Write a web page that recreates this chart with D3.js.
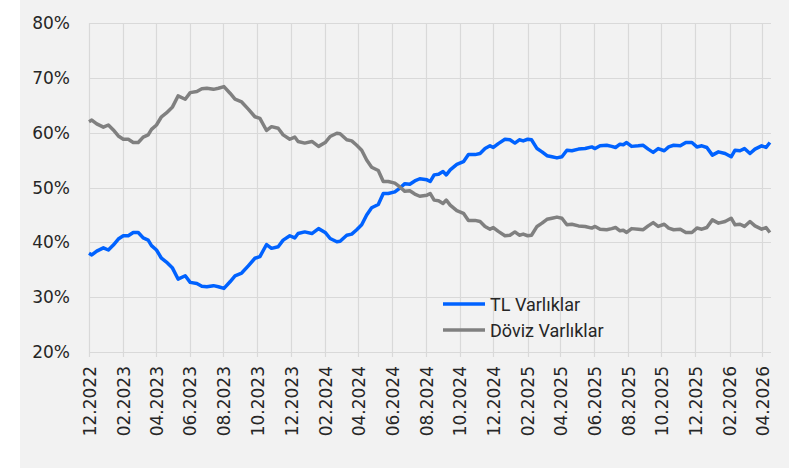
<!DOCTYPE html>
<html>
<head>
<meta charset="utf-8">
<script src="https://cdn.jsdelivr.net/npm/d3@7"></script>
<style>
  html, body { margin: 0; padding: 0; background: #ffffff; }
  svg { display: block; }
</style>
</head>
<body>
<div id="chart"></div>
<script>
var dates = [
  '2022-12-01', '2022-12-06', '2022-12-15', '2022-12-27', '2023-01-05', '2023-01-14', '2023-01-23', '2023-02-01', '2023-02-10', '2023-02-19',
  '2023-02-28', '2023-03-09', '2023-03-18', '2023-03-24', '2023-04-02', '2023-04-11', '2023-04-20', '2023-05-01', '2023-05-11', '2023-05-24',
  '2023-06-02', '2023-06-14', '2023-06-23', '2023-07-02', '2023-07-14', '2023-07-23', '2023-08-02', '2023-08-13', '2023-08-22', '2023-09-03',
  '2023-09-15', '2023-09-27', '2023-10-06', '2023-10-18', '2023-10-27', '2023-11-08', '2023-11-17', '2023-11-29', '2023-12-08', '2023-12-14',
  '2023-12-26', '2024-01-08', '2024-01-20', '2024-02-01', '2024-02-10', '2024-02-22', '2024-02-28', '2024-03-11', '2024-03-20', '2024-03-29',
  '2024-04-07', '2024-04-16', '2024-04-25', '2024-05-07', '2024-05-16', '2024-05-25', '2024-06-06', '2024-06-15', '2024-06-24', '2024-07-03',
  '2024-07-12', '2024-07-21', '2024-08-03', '2024-08-09', '2024-08-16', '2024-08-24', '2024-09-01', '2024-09-07', '2024-09-14', '2024-09-26',
  '2024-10-08', '2024-10-17', '2024-10-29', '2024-11-07', '2024-11-16', '2024-11-25', '2024-12-01', '2024-12-10', '2024-12-22', '2024-12-31',
  '2025-01-09', '2025-01-17', '2025-01-24', '2025-02-01', '2025-02-08', '2025-02-18', '2025-02-27', '2025-03-08', '2025-03-17', '2025-03-26',
  '2025-04-04', '2025-04-13', '2025-04-22', '2025-05-04', '2025-05-16', '2025-05-28', '2025-06-03', '2025-06-12', '2025-06-24', '2025-07-03',
  '2025-07-10', '2025-07-18', '2025-07-24', '2025-07-30', '2025-08-08', '2025-08-20', '2025-08-29', '2025-09-07', '2025-09-16', '2025-09-25',
  '2025-10-06', '2025-10-14', '2025-10-23', '2025-11-04', '2025-11-14', '2025-11-25', '2025-12-04', '2025-12-13', '2025-12-22', '2026-01-01',
  '2026-01-12', '2026-01-24', '2026-02-04', '2026-02-11', '2026-02-20', '2026-02-28', '2026-03-10', '2026-03-19', '2026-03-31', '2026-04-08',
  '2026-04-15'
]

// TL Varlıklar (%)
var tlValues = [
  38.0, 37.7, 38.4, 39.0, 38.6, 39.5, 40.6, 41.2, 41.2, 41.8,
  41.8, 40.8, 40.4, 39.4, 38.6, 37.1, 36.4, 35.3, 33.3, 33.9,
  32.7, 32.5, 32.0, 31.9, 32.1, 31.9, 31.6, 32.8, 33.9, 34.4,
  35.7, 37.1, 37.4, 39.6, 38.9, 39.2, 40.4, 41.2, 40.8, 41.6,
  41.9, 41.6, 42.5, 41.8, 40.7, 40.1, 40.2, 41.3, 41.5, 42.3,
  43.2, 45.0, 46.3, 46.9, 48.9, 48.9, 49.2, 49.9, 50.7, 50.6,
  51.2, 51.6, 51.4, 51.1, 52.3, 52.4, 52.9, 52.3, 53.2, 54.2,
  54.7, 56.0, 56.0, 56.2, 57.1, 57.6, 57.3, 58.0, 58.8, 58.7,
  58.1, 58.7, 58.5, 58.8, 58.7, 57.1, 56.5, 55.8, 55.6, 55.4,
  55.6, 56.8, 56.7, 57.0, 57.1, 57.4, 57.1, 57.6, 57.7, 57.5,
  57.3, 57.9, 57.8, 58.2, 57.5, 57.6, 57.7, 57.0, 56.4, 57.1,
  56.7, 57.4, 57.7, 57.6, 58.2, 58.2, 57.4, 57.6, 57.3, 55.9,
  56.5, 56.2, 55.6, 56.8, 56.7, 57.1, 56.2, 57.0, 57.6, 57.3,
  58.2
]

// Döviz Varlıklar (%)
var dovizValues = [
  62.0, 62.3, 61.6, 61.0, 61.4, 60.5, 59.4, 58.8, 58.8, 58.2,
  58.2, 59.2, 59.6, 60.6, 61.4, 62.9, 63.6, 64.7, 66.7, 66.1,
  67.3, 67.5, 68.0, 68.1, 67.9, 68.1, 68.4, 67.2, 66.1, 65.6,
  64.3, 62.9, 62.6, 60.4, 61.1, 60.8, 59.6, 58.8, 59.2, 58.4,
  58.1, 58.4, 57.5, 58.2, 59.3, 59.9, 59.8, 58.7, 58.5, 57.7,
  56.8, 55.0, 53.7, 53.1, 51.1, 51.1, 50.8, 50.1, 49.3, 49.4,
  48.8, 48.4, 48.6, 48.9, 47.7, 47.6, 47.1, 47.7, 46.8, 45.8,
  45.3, 44.0, 44.0, 43.8, 42.9, 42.4, 42.7, 42.0, 41.2, 41.3,
  41.9, 41.3, 41.5, 41.2, 41.3, 42.9, 43.5, 44.2, 44.4, 44.6,
  44.4, 43.2, 43.3, 43.0, 42.9, 42.6, 42.9, 42.4, 42.3, 42.5,
  42.7, 42.1, 42.2, 41.8, 42.5, 42.4, 42.3, 43.0, 43.6, 42.9,
  43.3, 42.6, 42.3, 42.4, 41.8, 41.8, 42.6, 42.4, 42.7, 44.1,
  43.5, 43.8, 44.4, 43.2, 43.3, 42.9, 43.8, 43.0, 42.4, 42.7,
  41.8
]

var xTickLabels = ['12.2022', '02.2023', '04.2023', '06.2023', '08.2023', '10.2023', '12.2023',
  '02.2024', '04.2024', '06.2024', '08.2024', '10.2024', '12.2024', '02.2025', '04.2025',
  '06.2025', '08.2025', '10.2025', '12.2025', '02.2026', '04.2026']
var yTicks = [20, 30, 40, 50, 60, 70, 80]
var seriesNames = ['TL Varlıklar', 'Döviz Varlıklar']
var seriesColors = ['#0062ff', '#808080']

var W = 789
var H = 470
var margin = { left: 89, right: 18, top: 23, bottom: 118 }

var parseDay = d3.utcParse('%Y-%m-%d')
var parseTick = d3.utcParse('%m.%Y')

var svg = d3.select('#chart').append('svg')
  .attr('width', W)
  .attr('height', H)

// chart area background
svg.append('rect')
  .attr('x', 20)
  .attr('y', 0)
  .attr('width', W - 20)
  .attr('height', 468)
  .attr('fill', '#f2f2f2')

var x = d3.scaleUtc()
  .domain([parseDay('2022-12-01'), parseDay('2026-04-17')])
  .range([margin.left, W - margin.right])

var y = d3.scaleLinear()
  .domain([20, 80])
  .range([H - margin.bottom, margin.top])

var tickDates = xTickLabels.map(function (s) { return parseTick(s) })

// horizontal gridlines
svg.append('g')
  .selectAll('line')
  .data(yTicks)
  .enter().append('line')
  .attr('x1', x.range()[0])
  .attr('x2', x.range()[1])
  .attr('y1', function (d) { return Math.round(y(d)) + 0.5 })
  .attr('y2', function (d) { return Math.round(y(d)) + 0.5 })
  .attr('stroke', '#d9d9d9')
  .attr('stroke-width', 1.2)

// vertical gridlines + tick marks
svg.append('g')
  .selectAll('line')
  .data(tickDates)
  .enter().append('line')
  .attr('x1', function (d) { return Math.round(x(d)) + 0.5 })
  .attr('x2', function (d) { return Math.round(x(d)) + 0.5 })
  .attr('y1', y(80))
  .attr('y2', y(20) + 5)
  .attr('stroke', '#d9d9d9')
  .attr('stroke-width', 1.2)

// y axis labels
svg.append('g')
  .selectAll('text')
  .data(yTicks)
  .enter().append('text')
  .attr('x', 70)
  .attr('y', function (d) { return y(d) })
  .attr('dy', '0.36em')
  .attr('text-anchor', 'end')
  .attr('font-family', 'DejaVu Sans, sans-serif')
  .attr('font-size', 17)
  .attr('fill', '#262626')
  .text(function (d) { return d + '%' })

// x axis labels, rotated
svg.append('g')
  .selectAll('text')
  .data(tickDates)
  .enter().append('text')
  .attr('transform', function (d) { return 'translate(' + x(d) + ',366) rotate(-90)' })
  .attr('dy', '0.4em')
  .attr('text-anchor', 'end')
  .attr('font-family', 'DejaVu Sans, sans-serif')
  .attr('font-size', 17)
  .attr('fill', '#262626')
  .text(function (d, i) { return xTickLabels[i] })

// lines
var line = d3.line()
  .x(function (d) { return x(d.date) })
  .y(function (d) { return y(d.value) })

var series = [tlValues, dovizValues].map(function (vals) {
  return vals.map(function (v, i) { return { date: parseDay(dates[i]), value: v } })
})

// gray drawn first so the blue sits on top, except at the crossing
svg.append('path')
  .datum(series[0])
  .attr('d', line)
  .attr('fill', 'none')
  .attr('stroke', seriesColors[0])
  .attr('stroke-width', 3.5)
  .attr('stroke-linejoin', 'round')

svg.append('path')
  .datum(series[1])
  .attr('d', line)
  .attr('fill', 'none')
  .attr('stroke', seriesColors[1])
  .attr('stroke-width', 3.5)
  .attr('stroke-linejoin', 'round')

// legend
var legend = svg.append('g').attr('transform', 'translate(443,304)')
seriesNames.forEach(function (name, i) {
  var g = legend.append('g').attr('transform', 'translate(0,' + (i * 26) + ')')
  g.append('line')
    .attr('x1', 0)
    .attr('x2', 42)
    .attr('y1', 0)
    .attr('y2', 0)
    .attr('stroke', seriesColors[i])
    .attr('stroke-width', 3.5)
  g.append('text')
    .attr('x', 47)
    .attr('y', 6.5)
    .attr('font-family', 'Roboto, sans-serif')
    .attr('font-size', 18)
    .attr('fill', '#262626')
    .text(name)
})
</script>
</body>
</html>
